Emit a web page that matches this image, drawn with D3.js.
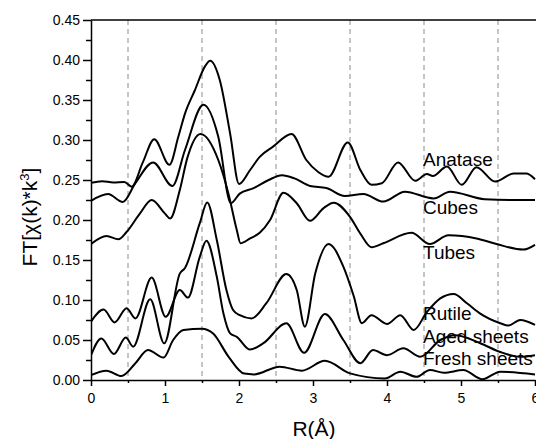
<!DOCTYPE html>
<html lang="en">
<head>
  <meta charset="UTF-8">
  <title>FT EXAFS</title>
  <style>
    body { margin: 0; background: #fff; }
    svg { display: block; font-family: "Liberation Sans", Arial, sans-serif; }
    .curve { fill: none; stroke: #000; stroke-width: 2px; }
    .guide { stroke: #8c8c8c; stroke-width: 1px; stroke-dasharray: 5,4; }
    .axis path, .axis line { stroke: #000; stroke-width: 1.5px; }
    .axis text { font-size: 14px; fill: #000; }
    .label { font-size: 19px; fill: #000; }
    .title { font-size: 21px; fill: #000; }
  </style>
</head>
<body>
  <script src="https://cdn.jsdelivr.net/npm/d3@7"></script>
  <script>
    // [R (Å), FT magnitude]
    const anatase = [[0, 0.2465], [0.15, 0.2485], [0.3, 0.247], [0.45, 0.2475], [0.55, 0.2417], [0.7, 0.272], [0.855, 0.301],
      [1.06, 0.269], [1.18, 0.304], [1.27, 0.333], [1.405, 0.3625], [1.54, 0.392], [1.61, 0.399], [1.74, 0.375], [1.88, 0.308],
      [2.0, 0.245], [2.15, 0.2625], [2.28, 0.279], [2.46, 0.2917], [2.71, 0.3075], [2.91, 0.275], [3.07, 0.26], [3.21, 0.254],
      [3.47, 0.297], [3.64, 0.2625], [3.79, 0.244], [3.93, 0.246], [4.15, 0.272], [4.38, 0.249], [4.54, 0.2575], [4.62, 0.255],
      [4.81, 0.267], [5.01, 0.244], [5.21, 0.266], [5.46, 0.248], [5.71, 0.258], [5.88, 0.258], [6.0, 0.251]];
    const cubes = [[0, 0.224], [0.23, 0.2325], [0.43, 0.2225], [0.6, 0.246], [0.84, 0.272], [1.1, 0.2425], [1.27, 0.2875],
      [1.52, 0.344], [1.72, 0.304], [1.89, 0.221], [2.01, 0.233], [2.19, 0.2396], [2.4, 0.25], [2.58, 0.256], [2.75, 0.252],
      [2.96, 0.2425], [3.18, 0.24], [3.43, 0.23], [3.68, 0.2325], [3.95, 0.223], [4.24, 0.2354], [4.63, 0.227], [4.85, 0.2354],
      [5.32, 0.226], [5.66, 0.225], [6.0, 0.225]];
    const tubes = [[0, 0.17], [0.21, 0.18], [0.37, 0.176], [0.48, 0.185], [0.66, 0.208], [0.82, 0.225], [1.0, 0.208],
      [1.07, 0.202], [1.2, 0.2375], [1.3, 0.277], [1.48, 0.3075], [1.72, 0.275], [1.86, 0.232], [1.97, 0.1875], [2.02, 0.171],
      [2.15, 0.177], [2.28, 0.184], [2.42, 0.2], [2.6, 0.234], [2.78, 0.221], [2.96, 0.199], [3.14, 0.2146], [3.28, 0.2217],
      [3.5, 0.204], [3.64, 0.183], [3.79, 0.166], [3.95, 0.171], [4.33, 0.184], [4.58, 0.17], [4.83, 0.181], [5.21, 0.177],
      [5.48, 0.17], [5.84, 0.163], [6.0, 0.169]];
    const rutile = [[0, 0.031], [0.14, 0.052], [0.31, 0.0325], [0.47, 0.053], [0.57, 0.0417], [0.8, 0.1008], [0.99, 0.0458],
      [1.2, 0.133], [1.27, 0.14], [1.47, 0.196], [1.57, 0.222], [1.7, 0.175], [1.83, 0.1125], [1.92, 0.0875], [2.01, 0.081],
      [2.17, 0.077], [2.37, 0.096], [2.64, 0.1325], [2.78, 0.1125], [2.89, 0.0667], [3.03, 0.133], [3.21, 0.17], [3.41, 0.1417],
      [3.55, 0.105], [3.66, 0.071], [3.79, 0.081], [4.0, 0.07], [4.18, 0.081], [4.36, 0.0625], [4.54, 0.085], [4.72, 0.102],
      [4.9, 0.1075], [5.08, 0.096], [5.26, 0.083], [5.53, 0.071], [5.64, 0.068], [5.8, 0.075], [6.0, 0.069]];
    const agedSheets = [[0, 0.073], [0.17, 0.088], [0.32, 0.072], [0.48, 0.0896], [0.6, 0.077], [0.82, 0.128], [1.01, 0.079],
      [1.2, 0.1125], [1.31, 0.103], [1.47, 0.154], [1.56, 0.174], [1.7, 0.129], [1.79, 0.083], [1.88, 0.0583], [1.97, 0.054],
      [2.15, 0.038], [2.33, 0.046], [2.64, 0.0708], [2.88, 0.034], [3.16, 0.0825], [3.41, 0.05], [3.64, 0.021], [3.81, 0.0375],
      [4.0, 0.031], [4.22, 0.0396], [4.45, 0.029], [4.72, 0.05], [4.92, 0.056], [5.26, 0.046], [5.53, 0.035], [5.8, 0.029],
      [6.0, 0.031]];
    const freshSheets = [[0, 0.006], [0.21, 0.0117], [0.41, 0.005], [0.6, 0.021], [0.77, 0.0375], [0.98, 0.028], [1.11, 0.05],
      [1.25, 0.0625], [1.5, 0.064], [1.65, 0.058], [1.86, 0.029], [2.07, 0.008], [2.2, 0.007], [2.55, 0.0167], [2.85, 0.0117],
      [3.16, 0.024], [3.5, 0.0083], [3.97, 0.002], [4.18, 0.0104], [4.4, 0.004], [4.58, 0.0125], [4.77, 0.009], [5.03, 0.0125],
      [5.29, 0.001], [5.53, 0.0104], [6.0, 0.007]];

    const series = [anatase, cubes, tubes, rutile, agedSheets, freshSheets];
    const labels = [
      { text: 'Anatase', y: 0.267 },
      { text: 'Cubes', y: 0.208 },
      { text: 'Tubes', y: 0.151 },
      { text: 'Rutile', y: 0.075 },
      { text: 'Aged sheets', y: 0.046 },
      { text: 'Fresh sheets', y: 0.019 }
    ];
    const guides = [0.5, 1.5, 2.5, 3.5, 4.5, 5.5];
    const yTicks = d3.range(0, 0.451, 0.05);
    const yMinor = d3.range(0.025, 0.45, 0.05);
    const xTicks = [0, 1, 2, 3, 4, 5, 6];
    const xMinor = [0.5, 1.5, 2.5, 3.5, 4.5, 5.5];

    const width = 536, height = 439;
    const mLeft = 91, mTop = 20, mRight = 535, mBottom = 380;

    const x = d3.scaleLinear().domain([0, 6]).range([mLeft, mRight]);
    const y = d3.scaleLinear().domain([0, 0.45]).range([mBottom, mTop]);

    const svg = d3.select('body').append('svg')
      .attr('width', width).attr('height', height);

    svg.append('clipPath').attr('id', 'plot')
      .append('rect').attr('x', mLeft).attr('y', mTop)
      .attr('width', mRight - mLeft + 2).attr('height', mBottom - mTop);

    // dashed guides
    svg.selectAll('line.guide').data(guides)
      .enter().append('line')
        .attr('class', 'guide')
        .attr('x1', d => x(d)).attr('x2', d => x(d))
        .attr('y1', mTop).attr('y2', mBottom);

    const line = d3.line().curve(d3.curveMonotoneX).x(d => x(d[0])).y(d => y(d[1]));
    svg.append('g').attr('clip-path', 'url(#plot)')
      .selectAll('path.curve').data(series)
      .enter().append('path')
        .attr('class', 'curve')
        .attr('d', d => line(d));

    // minor ticks
    svg.append('g').attr('class', 'axis')
      .attr('transform', `translate(${mLeft},0)`)
      .call(d3.axisLeft(y).tickValues(yMinor).tickSize(5).tickFormat(''))
      .select('.domain').remove();
    svg.append('g').attr('class', 'axis')
      .attr('transform', `translate(0,${mBottom})`)
      .call(d3.axisBottom(x).tickValues(xMinor).tickSize(3).tickFormat(''))
      .select('.domain').remove();

    svg.append('g').attr('class', 'axis')
      .attr('transform', `translate(${mLeft},0)`)
      .call(d3.axisLeft(y).tickValues(yTicks).tickSize(8).tickSizeOuter(0).tickPadding(3).tickFormat(d3.format('.2f')));
    svg.append('g').attr('class', 'axis')
      .attr('transform', `translate(0,${mBottom})`)
      .call(d3.axisBottom(x).tickValues(xTicks).tickSize(6).tickSizeOuter(0).tickPadding(7).tickFormat(d3.format('d')));

    // top frame
    svg.append('line')
      .attr('x1', mLeft).attr('x2', width).attr('y1', mTop).attr('y2', mTop)
      .attr('stroke', '#000').attr('stroke-width', 1.5);

    svg.selectAll('text.label').data(labels)
      .enter().append('text')
        .attr('class', 'label')
        .attr('x', x(4.5) - 1)
        .attr('y', d => y(d.y))
        .text(d => d.text);

    svg.append('text').attr('class', 'title')
      .attr('x', 314).attr('y', 436)
      .attr('text-anchor', 'middle')
      .text('R(Å)');

    const yt = svg.append('text').attr('class', 'title')
      .attr('transform', 'translate(37,217) rotate(-90)')
      .attr('text-anchor', 'middle');
    yt.append('tspan').text('FT[χ(k)*k');
    yt.append('tspan').attr('font-size', 13).attr('dy', -8).text('3');
    yt.append('tspan').attr('dy', 8).text(']');
  </script>
</body>
</html>
